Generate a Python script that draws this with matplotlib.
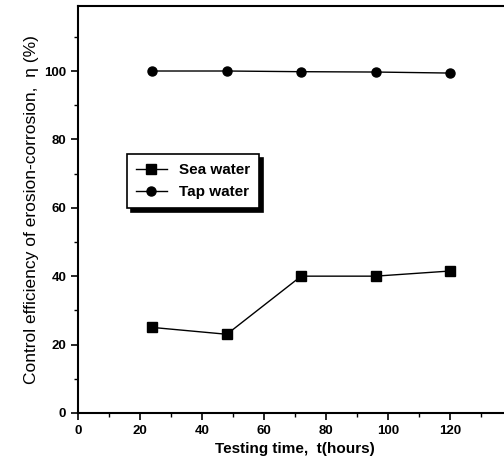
import matplotlib.pyplot as plt
from matplotlib.ticker import MultipleLocator

plt.rcParams['font.family'] = ['Liberation Sans', 'DejaVu Sans']

hours = [24, 48, 72, 96, 120]
sea_water = [25, 23, 40, 40, 41.5]
tap_water = [100, 100, 99.8, 99.7, 99.4]

fig = plt.figure(figsize=(5.04, 4.65), dpi=100)
ax = fig.add_axes([0.155, 0.112, 0.86, 0.875])

ax.plot(hours, sea_water, color='black', lw=1, marker='s', ms=6.5, label='Sea water')
ax.plot(hours, tap_water, color='black', lw=1, marker='o', ms=6.5, label='Tap water')

ax.set_xlim(0, 139.9)
ax.set_ylim(0, 119)
ax.set_xticks([0, 20, 40, 60, 80, 100, 120])
ax.xaxis.set_minor_locator(MultipleLocator(10))
ax.yaxis.set_major_locator(MultipleLocator(20))
ax.yaxis.set_minor_locator(MultipleLocator(10))
ax.tick_params(which='major', direction='out', length=5, width=1.2, labelsize=9.5)
ax.tick_params(which='minor', direction='out', length=3, width=1)
for lab in ax.get_xticklabels() + ax.get_yticklabels():
    lab.set_fontweight('bold')
for s in ax.spines.values():
    s.set_linewidth(1.5)

ax.set_xlabel('Testing time,  t(hours)', fontsize=11, fontweight='bold')
ax.set_ylabel('Control efficiency of erosion-corrosion,  \u03b7 (%)', fontsize=12.5)

leg = ax.legend(loc='upper left', bbox_to_anchor=(0.095, 0.655),
                frameon=True, fancybox=False,
                shadow={'color': 'black', 'alpha': 1, 'ox': 3, 'oy': -3},
                edgecolor='black', handlelength=2, borderpad=0.6,
                prop={'weight': 'bold', 'size': 11})
leg.get_frame().set_linewidth(1.2)

fig.savefig('out.png', dpi=100)
